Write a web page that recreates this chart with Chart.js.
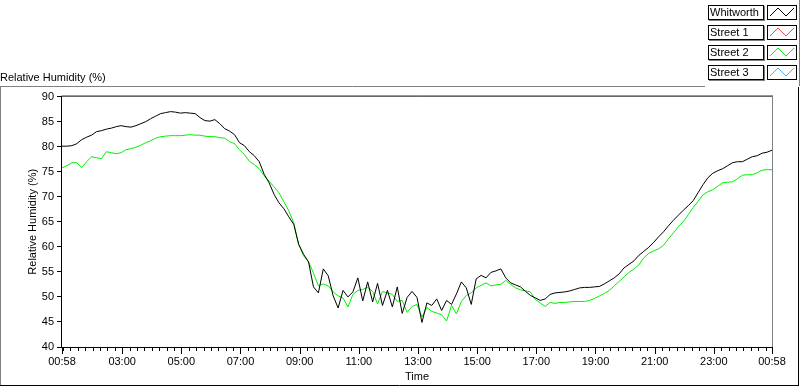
<!DOCTYPE html>
<html>
<head>
<meta charset="utf-8">
<script src="https://cdn.jsdelivr.net/npm/chart.js@4.4.1/dist/chart.umd.min.js"></script>
<style>
  html, body { margin: 0; padding: 0; background: #fff; }
</style>
</head>
<body>
<canvas id="rh" width="800" height="386"></canvas>
<script>
// logger started at 00:58, one reading kept every 10 minutes for 24 h
const startClock = 58;
const stepMinutes = 10;

const seriesNames = ['Whitworth', 'Street 1', 'Street 2', 'Street 3'];
const seriesColors = ['#000000', '#ff4646', '#00f000', '#40b4ff'];

const whitworth = [
  80.1, 80.1, 80.2, 80.6, 81.4, 81.9, 82.3, 83.0, 83.2, 83.5,
  83.7, 84.0, 84.2, 84.0, 83.9, 84.2, 84.6, 85.0, 85.6, 86.1,
  86.6, 86.8, 87.0, 86.9, 86.7, 86.8, 86.7, 86.6, 85.8, 85.2,
  85.1, 85.4, 84.6, 83.6, 83.1, 82.4, 80.8, 80.2, 79.0, 78.2,
  77.0, 74.5, 72.8, 70.5, 68.8, 67.6, 66.0, 64.5, 60.5, 58.5,
  57.0, 52.0, 50.8, 55.6, 54.2, 50.2, 47.8, 51.3, 50.0, 51.0,
  53.8, 49.2, 53.0, 49.0, 52.7, 48.3, 51.3, 48.0, 52.0, 46.7,
  49.9, 51.1, 49.9, 44.9, 48.8, 48.3, 49.6, 47.3, 49.3, 48.5,
  50.6, 53.0, 51.8, 48.5, 53.6, 54.3, 53.8, 54.9, 55.2, 55.6,
  53.8, 52.8, 52.4, 52.0, 51.1, 50.3, 49.8, 49.3, 49.6, 50.5,
  50.8, 50.9, 51.0, 51.2, 51.5, 51.8, 51.9, 51.9, 52.0, 52.1,
  52.6, 53.2, 53.8, 54.6, 55.8, 56.5, 57.2, 58.3, 59.1, 59.9,
  60.9, 62.0, 63.0, 64.2, 65.3, 66.3, 67.3, 68.2, 69.2, 70.8,
  72.4, 73.8, 74.7, 75.2, 75.6, 76.2, 76.8, 77.0, 77.0, 77.5,
  78.0, 78.2, 78.7, 78.9, 79.3
];
const street1 = [];
const street2 = [
  75.8, 76.2, 76.8, 76.8, 75.8, 77.0, 78.0, 77.8, 77.6, 79.0,
  78.8, 78.6, 78.8, 79.4, 79.6, 79.9, 80.3, 80.8, 81.2, 81.7,
  82.0, 82.1, 82.2, 82.2, 82.2, 82.3, 82.4, 82.3, 82.3, 82.1,
  82.0, 82.0, 81.8, 81.7, 81.0, 80.6, 79.4, 78.4, 77.1, 76.4,
  75.6, 74.2, 73.1, 72.0, 70.8, 69.0, 67.2, 64.8, 60.5, 58.2,
  57.0, 54.8, 52.2, 52.6, 52.2, 51.0, 50.2, 49.8, 48.0, 50.5,
  51.3, 51.5, 51.9, 51.1, 48.6, 51.1, 50.8, 50.5, 49.1, 49.3,
  46.9, 48.1, 48.5, 46.0, 47.9, 47.1, 46.8, 46.4, 45.2, 48.3,
  46.6, 49.1, 50.3, 50.8, 51.8, 52.3, 52.8, 52.2, 52.4, 52.5,
  53.3, 52.5, 51.8, 51.4, 51.2, 51.0, 49.5, 48.8, 48.1, 48.9,
  48.7, 48.9, 48.9, 49.0, 49.1, 49.1, 49.1, 49.3, 49.7, 50.2,
  50.7, 51.3, 52.2, 53.1, 54.0, 54.9, 55.6, 56.4, 57.8, 58.7,
  59.2, 59.6, 60.3, 61.6, 62.8, 64.0, 65.0, 66.4, 67.8, 69.1,
  70.4, 71.0, 71.4, 72.1, 72.8, 72.9, 73.0, 73.6, 74.3, 74.4,
  74.4, 74.8, 75.3, 75.4, 75.4
];
const street3 = [];

const yMin = 40, yMax = 90, yStep = 5;
const xLabels = ['00:58', '03:00', '05:00', '07:00', '09:00', '11:00', '13:00',
                 '15:00', '17:00', '19:00', '21:00', '23:00', '00:58'];

const span = 24 * 60;
const font = { family: 'Liberation Sans', size: 11 };

function toClock(m) {
  const c = (startClock + m) % span;
  const h = Math.floor(c / 60), mm = c % 60;
  return String(h).padStart(2, '0') + ':' + String(mm).padStart(2, '0');
}

// labelled ticks: first and last are the ends of the record
const majorOffsets = xLabels.map((s, i) => {
  if (i === xLabels.length - 1) return span;
  const [h, m] = s.split(':').map(Number);
  return (h * 60 + m - startClock + span) % span;
});
// small marks every quarter hour of clock time
const minorOffsets = [];
for (let m = 0; m <= span; m++) {
  if ((startClock + m) % 15 === 0) minorOffsets.push(m);
}
const allTicks = Array.from(new Set([...majorOffsets, ...minorOffsets])).sort((a, b) => a - b);

const toPoints = arr => arr.map((v, i) => ({ x: i * stepMinutes, y: v }));
const seriesData = [whitworth, street1, street2, street3];

const framePlugin = {
  id: 'frame',
  afterDraw(chart) {
    const { ctx, chartArea: a } = chart;
    const x = chart.scales.x;
    ctx.save();
    ctx.lineWidth = 1;

    // outer panel
    ctx.strokeStyle = '#808080';
    ctx.beginPath();
    ctx.moveTo(0, 86.5); ctx.lineTo(705, 86.5);
    ctx.moveTo(0.5, 86); ctx.lineTo(0.5, 386);
    ctx.moveTo(799.5, 0); ctx.lineTo(799.5, 86);
    ctx.stroke();
    ctx.strokeStyle = '#000';
    ctx.beginPath();
    ctx.moveTo(0, 385.5); ctx.lineTo(799, 385.5);
    ctx.moveTo(798.5, 87); ctx.lineTo(798.5, 386);
    ctx.stroke();

    // plot box
    ctx.strokeStyle = '#000';
    ctx.beginPath();
    ctx.moveTo(a.left - 0.5, a.bottom + 0.5); ctx.lineTo(a.left - 0.5, a.top - 0.5);
    ctx.lineTo(a.right + 1, a.top - 0.5);
    ctx.moveTo(a.left - 1, a.bottom + 0.5); ctx.lineTo(a.right + 1, a.bottom + 0.5);
    ctx.stroke();
    ctx.strokeStyle = '#808080';
    ctx.beginPath();
    ctx.moveTo(a.right + 0.5, a.top); ctx.lineTo(a.right + 0.5, a.bottom);
    ctx.stroke();

    // time axis marks
    ctx.strokeStyle = '#000';
    ctx.beginPath();
    x.ticks.forEach(t => {
      const px = Math.round(x.getPixelForValue(t.value)) + 0.5;
      const len = majorOffsets.includes(t.value) ? 6 : 3;
      ctx.moveTo(px, a.bottom + 1);
      ctx.lineTo(px, a.bottom + 1 + len);
    });
    ctx.stroke();

    // legend
    ctx.font = '11px "Liberation Sans"';
    ctx.textBaseline = 'middle';
    chart.data.datasets.forEach((ds, i) => {
      const y0 = 5 + i * 20;
      ctx.strokeStyle = '#000';
      ctx.strokeRect(708.5, y0 + 0.5, 55, 14);
      ctx.strokeRect(767.5, y0 + 0.5, 29, 14);
      ctx.strokeStyle = '#808080';
      ctx.beginPath();
      ctx.moveTo(764.5, y0 + 1); ctx.lineTo(764.5, y0 + 16);
      ctx.moveTo(709, y0 + 15.5); ctx.lineTo(765, y0 + 15.5);
      ctx.stroke();
      ctx.fillStyle = '#000';
      ctx.fillText(ds.label, 710, y0 + 8);
      ctx.strokeStyle = ds.borderColor;
      ctx.beginPath();
      ctx.moveTo(770, y0 + 11);
      ctx.lineTo(778, y0 + 3);
      ctx.lineTo(786, y0 + 11);
      ctx.lineTo(794, y0 + 3);
      ctx.stroke();
    });
    ctx.restore();
  }
};

new Chart(document.getElementById('rh'), {
  type: 'line',
  data: {
    datasets: seriesNames.map((name, i) => ({
      label: name,
      data: toPoints(seriesData[i]),
      borderColor: seriesColors[i],
      borderWidth: 1,
      pointRadius: 0,
      tension: 0,
      fill: false
    }))
  },
  options: {
    responsive: false,
    animation: false,
    devicePixelRatio: 1,
    layout: { padding: { top: 0, right: 28, bottom: 0, left: 0 } },
    plugins: {
      legend: { display: false },
      tooltip: { enabled: false },
      title: {
        display: true,
        text: 'Relative Humidity (%)',
        align: 'start',
        color: '#000',
        font: { family: 'Liberation Sans', size: 11, weight: 'normal' },
        padding: { top: 71, bottom: 12.4 }
      }
    },
    scales: {
      x: {
        type: 'linear',
        min: 0,
        max: span,
        afterFit: s => { s.height = 39; },
        afterBuildTicks: s => { s.ticks = allTicks.map(v => ({ value: v })); },
        grid: { display: false },
        border: { display: false },
        ticks: {
          autoSkip: false,
          maxRotation: 0,
          padding: 0,
          color: '#000',
          font,
          callback: v => majorOffsets.includes(v) ? toClock(v) : ''
        },
        title: { display: true, text: 'Time', color: '#000', font, padding: { top: 0, bottom: 2.4 } }
      },
      y: {
        min: yMin,
        max: yMax,
        afterFit: s => { s.width = 62; },
        ticks: { stepSize: yStep, padding: 3, color: '#000', font },
        grid: { drawOnChartArea: false, drawTicks: true, tickLength: 5, color: '#000' },
        border: { display: false },
        title: { display: true, text: 'Relative Humidity (%)', color: '#000', font, padding: { top: 26.4, bottom: 0 } }
      }
    }
  },
  plugins: [framePlugin]
});
</script>
</body>
</html>
